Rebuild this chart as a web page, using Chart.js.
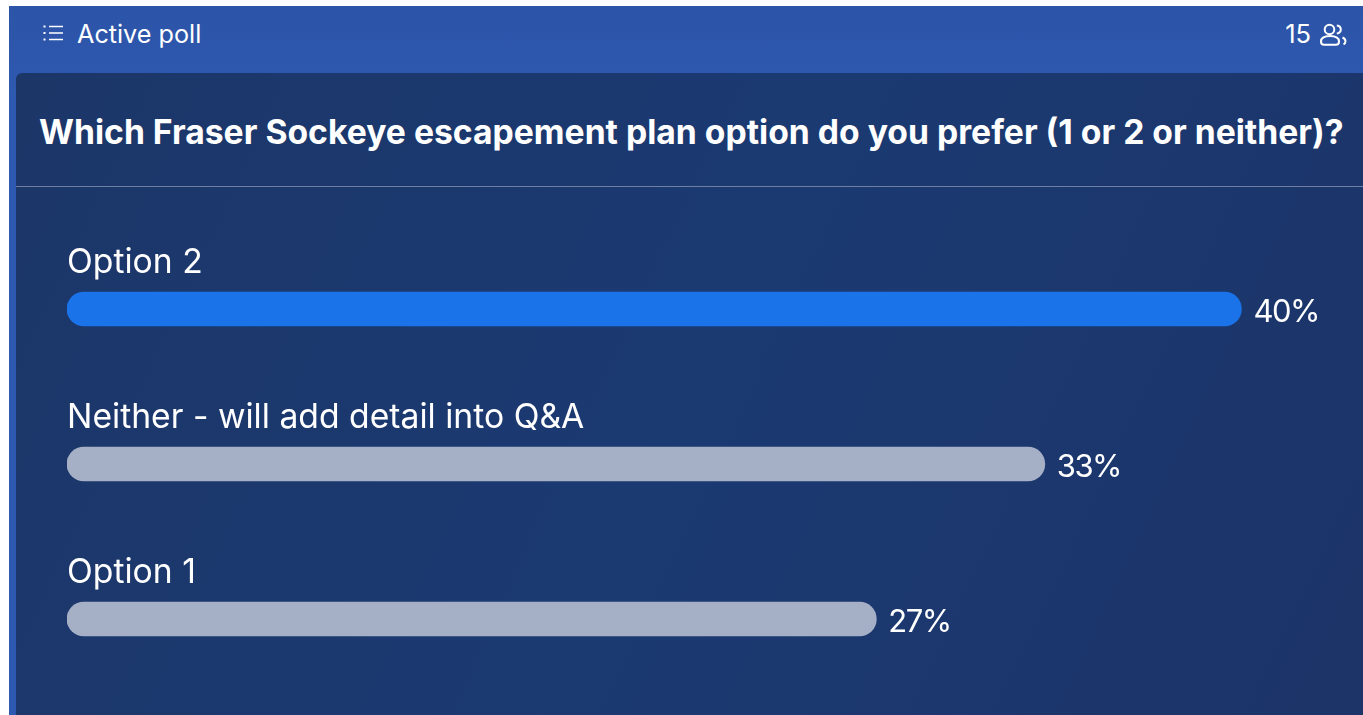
<!DOCTYPE html>
<html>
<head>
<meta charset="utf-8">
<title>Active poll</title>
<script src="https://cdn.jsdelivr.net/npm/chart.js@4"></script>
<style>
  html, body { margin: 0; padding: 0; background: #fff; width: 1363px; height: 715px; overflow: hidden; }
  body { font-family: Inter, sans-serif; color: #fff; position: relative; }
  #header { position: absolute; left: 9px; top: 6px; right: 0; bottom: 0; background: linear-gradient(180deg, #2c54a8 0%, #2e59b0 12%); }
  #panel { position: absolute; left: 16px; top: 73px; right: 0; bottom: 0; border-top-left-radius: 6px;
           background: linear-gradient(115deg, #1c3668 0%, #1b3a72 50%, #1c3468 100%); }
  #headTitle { position: absolute; left: 77px; top: 19px; font-size: 25.2px; line-height: 30px; }
  #listIcon { position: absolute; left: 43px; top: 24px; }
  #count { position: absolute; right: 52px; top: 19px; font-size: 25.5px; line-height: 30px; }
  #usersIcon { position: absolute; left: 1320px; top: 23px; }
  #question { position: absolute; left: 39px; top: 112px; font-size: 33.7px; line-height: 40px; font-weight: 700; white-space: nowrap; }
  #divider { position: absolute; left: 16px; right: 0; top: 186px; height: 1px; background: #6d7fa3; }
  #poll { position: absolute; left: 0; top: 0; }
</style>
</head>
<body>
<div id="header"></div>
<div id="panel"></div>
<svg id="listIcon" width="21" height="18" viewBox="0 0 21 18" fill="none" stroke="#fff" stroke-width="1.4">
  <path d="M6 2.5H20M6 9H20M6 15.5H20"/>
  <path d="M0.5 2.5H2.5M0.5 9H2.5M0.5 15.5H2.5" stroke-width="2"/>
</svg>
<div id="headTitle">Active poll</div>
<div id="count">15</div>
<svg id="usersIcon" width="27" height="24" viewBox="0 0 27 24" fill="none" stroke="#fff" stroke-width="2">
  <circle cx="9.500" cy="6.500" r="4.800"/>
  <path d="M1 18.500c0-3.600 3.400-5.500 9-5.500s9 1.900 9 5.500c0 2-1 3.300-3 3.300H4c-2 0-3-1.300-3-3.300z"/>
  <path d="M16.800 2.500c2.600.4 4 2 4 4s-1.400 3.600-4 4M22.500 14.500c2 .8 3 2 3 3.800 0 1.400-.7 2.400-2 3"/>
</svg>
<div id="question">Which Fraser Sockeye escapement plan option do you prefer (1 or 2 or neither)?</div>
<div id="divider"></div>
<canvas id="poll" width="1363" height="715"></canvas>
<script>
const categories = ['Option 2', 'Neither - will add detail into Q&A', 'Option 1'];
const percents = [40, 33, 27];

// bars in the original don't start at 0%, they carry a small extra length
const axisMin = -1.82;
const axisMax = 44.33;

// Draws the option name above each bar and the percent after it
const pollLabels = {
    id: 'pollLabels',
    afterDatasetsDraw(chart) {
        const ctx = chart.ctx;
        const bars = chart.getDatasetMeta(0).data;
        ctx.save();
        ctx.fillStyle = '#ffffff';
        ctx.textBaseline = 'alphabetic';
        ctx.textAlign = 'left';
        bars.forEach((bar, i) => {
            ctx.font = '33.7px Inter, sans-serif';
            ctx.letterSpacing = '0px';
            ctx.fillText(categories[i], chart.chartArea.left, bar.y - 36.5);
            ctx.font = '31px Inter, sans-serif';
            ctx.letterSpacing = '-1.5px';
            ctx.fillText(percents[i] + '%', bar.x + 12, bar.y + 13);
        });
        ctx.restore();
    }
};

new Chart(document.getElementById('poll'), {
    type: 'bar',
    data: {
        labels: categories,
        datasets: [{
            data: percents,
            base: axisMin,
            backgroundColor: ctx => ctx.dataIndex === 0 ? '#1b73ea' : '#a5afc6',
            barThickness: 34,
            borderRadius: 17,
            borderSkipped: false
        }]
    },
    options: {
        indexAxis: 'y',
        responsive: false,
        animation: false,
        layout: { padding: { left: 67, right: 0, top: 231.5, bottom: 18.5 } },
        plugins: { legend: { display: false }, tooltip: { enabled: false } },
        scales: {
            x: { display: false, min: axisMin, max: axisMax },
            y: { display: false }
        }
    },
    plugins: [pollLabels]
});
</script>
</body>
</html>
